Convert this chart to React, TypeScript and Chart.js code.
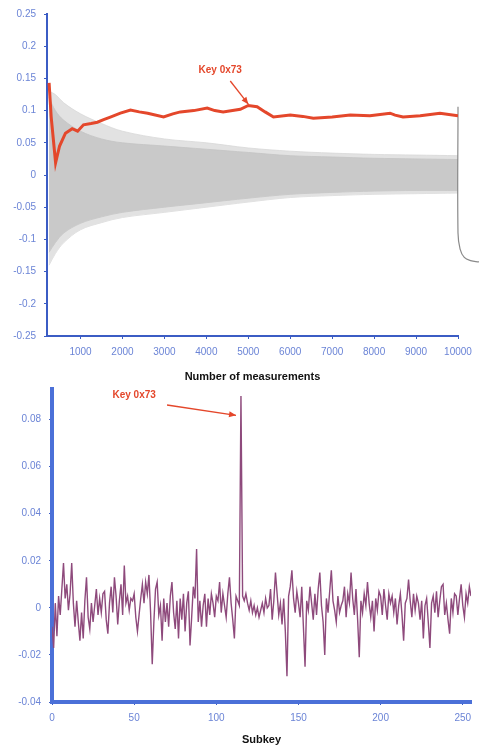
import React, { useEffect, useRef } from "react";
import { Chart, registerables } from "chart.js";

Chart.register(...registerables);

const FONT = '"Liberation Sans", Arial, sans-serif';
const AXIS_BLUE = "#3b5cc4";
const TICK_BLUE = "#6b84d6";
const KEY_RED = "#e4472b";

// ---------- Top chart data ----------
const topXTicks = [1000, 2000, 3000, 4000, 5000, 6000, 7000, 8000, 9000, 10000];
const topYTicks = [-0.25, -0.2, -0.15, -0.1, -0.05, 0, 0.05, 0.1, 0.15, 0.2, 0.25];

const bandX = [250, 400, 600, 1000, 1500, 2000, 3000, 4000, 5000, 6000, 7000, 8000, 9000, 10000];
const lightUpper = [0.13, 0.125, 0.112, 0.095, 0.08, 0.068, 0.056, 0.05, 0.042, 0.037, 0.034, 0.032, 0.031, 0.03];
const lightLower = [-0.14, -0.122, -0.105, -0.085, -0.074, -0.066, -0.058, -0.05, -0.042, -0.035, -0.032, -0.03, -0.029, -0.028];
const denseUpper = [0.12, 0.1, 0.085, 0.068, 0.056, 0.05, 0.045, 0.04, 0.035, 0.03, 0.028, 0.026, 0.025, 0.024];
const denseLower = [-0.12, -0.105, -0.09, -0.075, -0.065, -0.058, -0.05, -0.043, -0.036, -0.03, -0.027, -0.025, -0.024, -0.024];

const keyX = [250, 300, 405, 500, 640, 800, 930, 1070, 1250, 1400, 1550, 1710, 1950, 2190, 2400, 2600, 2980, 3200, 3380, 3700, 4020, 4200, 4400, 4810, 5000, 5210, 5400, 5600, 6000, 6300, 6550, 7000, 7430, 7900, 8380, 8500, 8690, 9100, 9570, 10000];
const keyY = [0.143, 0.09, 0.019, 0.045, 0.065, 0.072, 0.068, 0.078, 0.08, 0.082, 0.086, 0.09, 0.096, 0.101, 0.098, 0.096, 0.09, 0.095, 0.098, 0.1, 0.104, 0.1, 0.098, 0.102, 0.108, 0.106, 0.098, 0.09, 0.093, 0.091, 0.088, 0.09, 0.093, 0.092, 0.096, 0.093, 0.09, 0.092, 0.096, 0.092];

const edgeX = [10500, 10300, 10150, 10050, 10000, 10000];
const edgeY = [-0.135, -0.133, -0.128, -0.115, -0.09, 0.106];

// ---------- Bottom chart data ----------
const bottomXTicks = [0, 50, 100, 150, 200, 250];
const bottomYTicks = [-0.04, -0.02, 0, 0.02, 0.04, 0.06, 0.08];
const subkeyValues = [
  -0.008, -0.017, 0.002, -0.012, 0.005, -0.003, 0.008, 0.019, 0.004, 0.010, -0.001, 0.006, 0.019, 0.002, -0.008, 0.003,
  -0.006, -0.014, -0.002, -0.013, 0.003, 0.013, -0.004, -0.009, 0.002, -0.006, 0.001, 0.008, -0.003, 0.004, -0.002, 0.006,
  0.007, -0.005, -0.011, 0.002, 0.009, -0.002, 0.013, 0.005, -0.007, 0.003, 0.010, -0.003, 0.018, 0.002, 0.005, -0.001,
  0.004, 0.003, 0.006, -0.004, -0.010, -0.003, 0.004, 0.010, 0.002, 0.011, 0.006, 0.014, -0.002, -0.024, -0.006, 0.008,
  0.011, -0.003, 0.001, -0.014, 0.004, -0.006, 0.002, -0.008, 0.005, 0.011, -0.002, -0.009, 0.003, -0.013, 0.004, -0.005,
  0.006, -0.010, 0.002, 0.007, -0.016, -0.004, 0.009, 0.004, 0.025, -0.006, 0.003, -0.008, 0.001, 0.006, -0.008, 0.004,
  -0.003, 0.006, 0.002, -0.004, 0.005, 0.003, 0.011, -0.002, 0.006, 0.001, -0.004, 0.006, 0.013, 0.002, -0.005, -0.013,
  0.005, 0.003, 0.001, 0.090, 0.005, 0.003, 0.006, 0.002, -0.001, 0.003, -0.002, 0.001, -0.003, 0.000, -0.004, -0.001,
  0.002, -0.002, 0.004, 0.000, 0.001, 0.008, -0.005, 0.003, 0.015, 0.006, -0.003, 0.002, -0.007, 0.004, -0.010, -0.029,
  0.005, 0.009, 0.016, 0.004, -0.002, 0.007, 0.002, -0.004, 0.009, -0.008, -0.025, 0.003, -0.001, 0.009, 0.002, -0.005,
  0.006, -0.003, 0.008, 0.015, 0.001, -0.006, -0.020, 0.004, -0.002, 0.007, 0.016, 0.003, -0.001, -0.006, 0.005, -0.002,
  0.001, 0.003, 0.009, -0.004, 0.006, 0.002, 0.015, 0.004, -0.003, 0.008, -0.005, -0.021, 0.003, -0.002, 0.006, 0.001,
  0.011, 0.002, -0.004, 0.003, -0.010, 0.004, -0.001, 0.007, 0.005, -0.003, 0.008, 0.001, -0.005, 0.006, 0.002, 0.005,
  -0.002, 0.004, -0.007, 0.001, 0.006, -0.003, -0.014, 0.002, 0.004, 0.012, 0.003, -0.004, 0.006, -0.001, 0.005, 0.002,
  -0.005, 0.003, -0.013, 0.001, 0.004, -0.006, -0.017, 0.002, 0.005, -0.002, 0.007, -0.004, 0.003, 0.009, 0.010, -0.003,
  0.002, -0.005, -0.011, 0.004, -0.002, 0.006, 0.005, -0.003, 0.004, 0.010, 0.001, -0.004, 0.006, 0.002, 0.009, 0.005,
];
const subkeys = subkeyValues.map((_, i) => i);

const pts = (xs: number[], ys: number[]) => xs.map((x, i) => ({ x, y: ys[i] }));

function drawArrow(ctx: CanvasRenderingContext2D, x1: number, y1: number, x2: number, y2: number, color: string) {
  ctx.save();
  ctx.strokeStyle = color;
  ctx.fillStyle = color;
  ctx.lineWidth = 1.3;
  ctx.beginPath();
  ctx.moveTo(x1, y1);
  ctx.lineTo(x2, y2);
  ctx.stroke();
  const a = Math.atan2(y2 - y1, x2 - x1);
  const L = 7, W = 3;
  ctx.beginPath();
  ctx.moveTo(x2, y2);
  ctx.lineTo(x2 - L * Math.cos(a) + W * Math.sin(a), y2 - L * Math.sin(a) - W * Math.cos(a));
  ctx.lineTo(x2 - L * Math.cos(a) - W * Math.sin(a), y2 - L * Math.sin(a) + W * Math.cos(a));
  ctx.closePath();
  ctx.fill();
  ctx.restore();
}

const topAnnotation = {
  id: "topAnnotation",
  afterDatasetsDraw(chart: any) {
    const { ctx, scales } = chart;
    const x = scales.x, y = scales.y;
    ctx.save();
    ctx.fillStyle = KEY_RED;
    ctx.font = `bold 10px ${FONT}`;
    ctx.textAlign = "center";
    ctx.textBaseline = "middle";
    ctx.fillText("Key 0x73", x.getPixelForValue(4330), y.getPixelForValue(0.163));
    ctx.restore();
    drawArrow(ctx, x.getPixelForValue(4570), y.getPixelForValue(0.146), x.getPixelForValue(5000), y.getPixelForValue(0.11), KEY_RED);
  },
};

const bottomAnnotation = {
  id: "bottomAnnotation",
  afterDatasetsDraw(chart: any) {
    const { ctx, scales } = chart;
    const x = scales.x, y = scales.y;
    ctx.save();
    ctx.fillStyle = KEY_RED;
    ctx.font = `bold 10px ${FONT}`;
    ctx.textAlign = "center";
    ctx.textBaseline = "middle";
    ctx.fillText("Key 0x73", x.getPixelForValue(50), y.getPixelForValue(0.0904));
    ctx.restore();
    drawArrow(ctx, x.getPixelForValue(70), y.getPixelForValue(0.0862), x.getPixelForValue(112), y.getPixelForValue(0.0818), KEY_RED);
  },
};

function axisCommon(borderWidth: number, fixedTicks: number[]) {
  return {
    type: "linear" as const,
    afterBuildTicks: (a: any) => {
      a.ticks = fixedTicks.map((v) => ({ value: v }));
    },
    border: { color: AXIS_BLUE, width: borderWidth },
    grid: { drawOnChartArea: false, tickLength: 3, tickColor: AXIS_BLUE, tickWidth: 1 },
  };
}

function TopChart() {
  const ref = useRef<HTMLCanvasElement>(null);
  useEffect(() => {
    const chart = new Chart(ref.current!, {
      type: "line",
      data: {
        datasets: [
          { data: pts(bandX, lightUpper), fill: 1, backgroundColor: "#e2e2e2", borderColor: "#d8d8d8", borderWidth: 0.8, pointRadius: 0, tension: 0.35, order: 5 },
          { data: pts(bandX, lightLower), fill: false, borderColor: "#d8d8d8", borderWidth: 0.8, pointRadius: 0, tension: 0.35, order: 6 },
          { data: pts(bandX, denseUpper), fill: 3, backgroundColor: "#c9c9c9", borderColor: "#c4c4c4", borderWidth: 0.8, pointRadius: 0, tension: 0.35, order: 3 },
          { data: pts(bandX, denseLower), fill: false, borderColor: "#c4c4c4", borderWidth: 0.8, pointRadius: 0, tension: 0.35, order: 4 },
          { data: pts(keyX, keyY), fill: false, borderColor: KEY_RED, borderWidth: 3, pointRadius: 0, tension: 0, order: 0 },
          { data: pts(edgeX, edgeY), fill: false, borderColor: "#8a8a8a", borderWidth: 1.2, pointRadius: 0, tension: 0.4, order: 1, clip: false } as any,
        ],
      },
      options: {
        animation: false,
        responsive: false,
        devicePixelRatio: 1,
        layout: { padding: { left: 0, right: 21, top: 14, bottom: 0 } },
        plugins: { legend: { display: false }, tooltip: { enabled: false } },
        scales: {
          x: {
            ...axisCommon(2, topXTicks),
            min: 200,
            max: 10000,
            afterFit: (s: any) => { s.height = 48; },
            ticks: { color: TICK_BLUE, font: { family: FONT, size: 10 }, padding: 7, maxRotation: 0, autoSkip: false, callback: (v: any) => String(v) },
            title: { display: true, text: "Number of measurements", color: "#111", font: { family: FONT, size: 11, weight: "bold" }, padding: { top: 0, bottom: 0 } },
          },
          y: {
            ...axisCommon(2, topYTicks),
            min: -0.25,
            max: 0.25,
            afterFit: (s: any) => { s.width = 47; },
            ticks: { color: TICK_BLUE, font: { family: FONT, size: 10 }, padding: 8, autoSkip: false, callback: (v: any) => String(v) },
          },
        },
      } as any,
      plugins: [topAnnotation],
    });
    return () => chart.destroy();
  }, []);
  return <canvas ref={ref} width={479} height={384} style={{ position: "absolute", left: 0, top: 0, width: 479, height: 384 }} />;
}

function BottomChart() {
  const ref = useRef<HTMLCanvasElement>(null);
  useEffect(() => {
    const chart = new Chart(ref.current!, {
      type: "line",
      data: {
        datasets: [
          {
            data: subkeys.map((k, i) => ({ x: k, y: subkeyValues[i] })),
            fill: false,
            borderColor: "#8e4a7c",
            borderWidth: 1.4,
            pointRadius: 0,
            tension: 0,
          },
        ],
      },
      options: {
        animation: false,
        responsive: false,
        devicePixelRatio: 1,
        layout: { padding: { left: 0, right: 8, top: 0, bottom: 0 } },
        plugins: { legend: { display: false }, tooltip: { enabled: false } },
        scales: {
          x: {
            ...axisCommon(4, bottomXTicks),
            border: { color: "#4b70d8", width: 4 },
            min: 0,
            max: 255,
            afterFit: (s: any) => { s.height = 48; },
            ticks: { color: TICK_BLUE, font: { family: FONT, size: 10 }, padding: 7, maxRotation: 0, autoSkip: false, callback: (v: any) => String(v) },
            title: { display: true, text: "Subkey", color: "#111", font: { family: FONT, size: 11, weight: "bold" }, padding: { top: 0, bottom: 3 } },
          },
          y: {
            ...axisCommon(4, bottomYTicks),
            border: { color: "#4b70d8", width: 4 },
            min: -0.04,
            max: 0.093,
            afterFit: (s: any) => { s.width = 52; },
            ticks: { color: TICK_BLUE, font: { family: FONT, size: 10 }, padding: 8, autoSkip: false, callback: (v: any) => String(v) },
          },
        },
      } as any,
      plugins: [bottomAnnotation],
    });
    return () => chart.destroy();
  }, []);
  return <canvas ref={ref} width={479} height={375} style={{ position: "absolute", left: 0, top: 375, width: 479, height: 375 }} />;
}

export default function App() {
  return (
    <div style={{ position: "absolute", left: 0, top: 0, width: 479, height: 750, background: "#fff" }}>
      <TopChart />
      <BottomChart />
    </div>
  );
}
